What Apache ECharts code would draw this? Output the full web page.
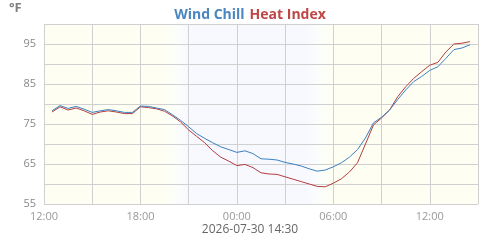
<!DOCTYPE html>
<html>
<head>
<meta charset="utf-8">
<script src="https://cdn.jsdelivr.net/npm/echarts@6/dist/echarts.min.js"></script>
<style>
  html, body { margin: 0; padding: 0; background: #fff; }
  #main { width: 500px; height: 240px; }
</style>
</head>
<body>
<div id="main"></div>
<script>
// half-hourly readings, 2026-07-29 12:30 .. 2026-07-30 14:30
const startTime = "2026-07-29 12:00";
const times = [
  "2026-07-29 12:30", "2026-07-29 13:00", "2026-07-29 13:30", "2026-07-29 14:00",
  "2026-07-29 14:30", "2026-07-29 15:00", "2026-07-29 15:30", "2026-07-29 16:00",
  "2026-07-29 16:30", "2026-07-29 17:00", "2026-07-29 17:30", "2026-07-29 18:00",
  "2026-07-29 18:30", "2026-07-29 19:00", "2026-07-29 19:30", "2026-07-29 20:00",
  "2026-07-29 20:30", "2026-07-29 21:00", "2026-07-29 21:30", "2026-07-29 22:00",
  "2026-07-29 22:30", "2026-07-29 23:00", "2026-07-29 23:30", "2026-07-30 00:00",
  "2026-07-30 00:30", "2026-07-30 01:00", "2026-07-30 01:30", "2026-07-30 02:00",
  "2026-07-30 02:30", "2026-07-30 03:00", "2026-07-30 03:30", "2026-07-30 04:00",
  "2026-07-30 04:30", "2026-07-30 05:00", "2026-07-30 05:30", "2026-07-30 06:00",
  "2026-07-30 06:30", "2026-07-30 07:00", "2026-07-30 07:30", "2026-07-30 08:00",
  "2026-07-30 08:30", "2026-07-30 09:00", "2026-07-30 09:30", "2026-07-30 10:00",
  "2026-07-30 10:30", "2026-07-30 11:00", "2026-07-30 11:30", "2026-07-30 12:00",
  "2026-07-30 12:30", "2026-07-30 13:00", "2026-07-30 13:30", "2026-07-30 14:00",
  "2026-07-30 14:30"
];
const windChill = [
  78.3, 79.6, 78.9, 79.4, 78.7, 77.9, 78.3, 78.6, 78.3, 77.9, 77.9, 79.5,
  79.4, 79.0, 78.6, 77.3, 75.9, 74.3, 72.6, 71.4, 70.3, 69.3, 68.6, 67.9,
  68.3, 67.6, 66.3, 66.2, 66.0, 65.4, 65.0, 64.5, 63.8, 63.2, 63.5, 64.3,
  65.3, 66.7, 68.6, 71.5, 75.3, 76.7, 78.5, 81.1, 83.5, 85.6, 86.9, 88.4,
  89.3, 91.4, 93.6, 94.0, 94.8
];
const heatIndex = [
  78.0, 79.3, 78.5, 79.0, 78.3, 77.4, 78.0, 78.3, 78.0, 77.6, 77.6, 79.3,
  79.1, 78.8, 78.2, 77.0, 75.5, 73.5, 71.9, 70.3, 68.3, 66.7, 65.7, 64.6,
  64.9, 64.1, 62.8, 62.5, 62.4, 61.8, 61.2, 60.6, 60.0, 59.4, 59.3, 60.2,
  61.3, 63.0, 65.3, 70.0, 74.8, 76.5, 78.5, 81.8, 84.3, 86.4, 88.1, 89.7,
  90.4, 93.0, 95.0, 95.2, 95.6
];
// night shading, in hours after startTime
const duskStart = 7.4, nightStart = 8.9, nightEnd = 16.4, dawnEnd = 18;

function hoursSinceStart(s) {
  const p = s => {
    const [d, t] = s.split(" ");
    const [y, mo, da] = d.split("-").map(Number);
    const [h, mi] = t.split(":").map(Number);
    return Date.UTC(y, mo - 1, da, h, mi);
  };
  return (p(s) - p(startTime)) / 3600000;
}

const xs = times.map(hoursSinceStart);
const wcData = xs.map((x, i) => [x, windChill[i]]);
const hiData = xs.map((x, i) => [x, heatIndex[i]]);

const dayColor = "#fefef3";
const nightColor = "#f8f9ff";
function grad(a, b) {
  return new echarts.graphic.LinearGradient(0, 0, 1, 0, [
    { offset: 0, color: a },
    { offset: 0.5, color: "#fcfefa" },
    { offset: 1, color: b },
  ]);
}

let myChart = echarts.init(document.getElementById("main"));
let option = {
  animation: false,
  title: {
    text: "{a|Wind Chill} {b|Heat Index}",
    left: "center",
    top: 1,
    textStyle: {
      rich: {
        a: { color: "#4a86c0", fontSize: 14, fontWeight: "bold", fontFamily: "Open Sans" },
        b: { color: "#c04646", fontSize: 14, fontWeight: "bold", fontFamily: "Open Sans" },
      },
    },
  },
  graphic: [
    {
      type: "text",
      left: 9,
      top: 2,
      style: { text: "°F", fill: "#808080", font: "bold 13px 'Open Sans'" },
    },
    {
      type: "text",
      left: "center",
      top: 224,
      style: { text: "2026-07-30 14:30", fill: "#666", font: "12px 'Open Sans'" },
    },
  ],
  grid: { left: 44, right: 22, top: 24, bottom: 36 },
  xAxis: {
    type: "value",
    z: 3,
    min: 0,
    max: 27,
    interval: 3,
    axisLine: { show: false },
    axisTick: { show: false },
    splitLine: { lineStyle: { color: "#d0d0d0", width: 1 } },
    axisLabel: {
      color: "#999",
      fontSize: 11,
      fontFamily: "Open Sans",
      margin: 7,
      formatter: (v) => {
        if (v % 6 !== 0 || v > 24) return "";
        const h = (12 + v) % 24;
        return (h < 10 ? "0" : "") + h + ":00";
      },
    },
  },
  yAxis: {
    type: "value",
    z: 3,
    min: 55,
    max: 100,
    interval: 5,
    axisLine: { show: false },
    axisTick: { show: false },
    splitLine: { lineStyle: { color: "#d0d0d0", width: 1 } },
    axisLabel: {
      color: "#888",
      fontSize: 11,
      fontFamily: "Open Sans",
      margin: 8,
      formatter: (v) => ((v - 55) % 10 === 0 ? String(v) : ""),
    },
  },
  series: [
    {
      type: "line",
      name: "bg",
      z: 1,
      data: [],
      markArea: {
        silent: true,
        data: [
          [{ xAxis: 0, itemStyle: { color: dayColor } }, { xAxis: duskStart }],
          [{ xAxis: duskStart, itemStyle: { color: grad(dayColor, nightColor) } }, { xAxis: nightStart }],
          [{ xAxis: nightStart, itemStyle: { color: nightColor } }, { xAxis: nightEnd }],
          [{ xAxis: nightEnd, itemStyle: { color: grad(nightColor, dayColor) } }, { xAxis: dawnEnd }],
          [{ xAxis: dawnEnd, itemStyle: { color: dayColor } }, { xAxis: 27 }],
        ],
      },
    },
    {
      type: "line",
      name: "Heat Index",
      z: 5,
      data: hiData,
      showSymbol: false,
      lineStyle: { color: "#b43c3f", width: 1 },
      itemStyle: { color: "#b43c3f" },
    },
    {
      type: "line",
      name: "Wind Chill",
      z: 5,
      data: wcData,
      showSymbol: false,
      lineStyle: { color: "#3d80c0", width: 1 },
      itemStyle: { color: "#3d80c0" },
    },
  ],
};
option && myChart.setOption(option);
</script>
</body>
</html>
